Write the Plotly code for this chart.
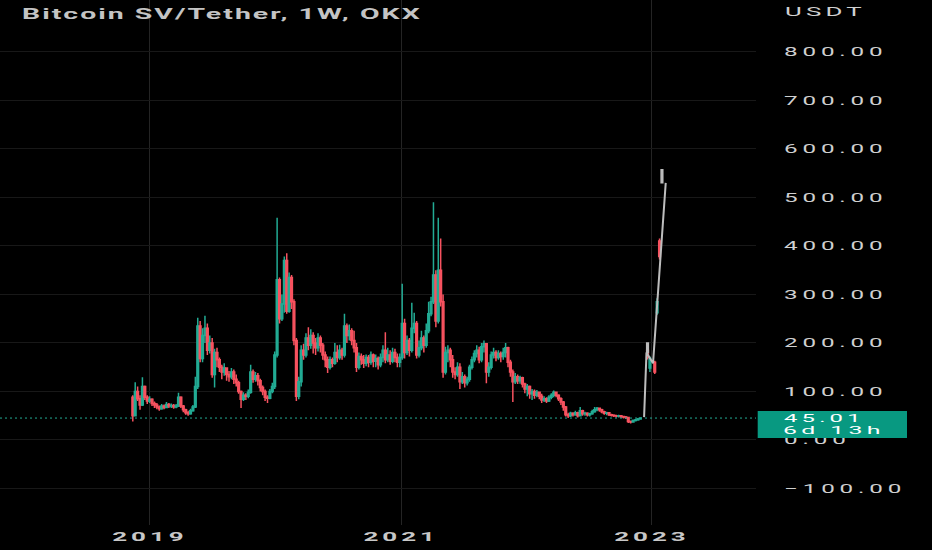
import plotly.graph_objects as go
import pandas as pd

# ---------------- data ----------------
start_week = "2018-11-12"

open_ = [88, 50, 100, 85, 72, 110, 88, 80, 84, 75,
         72, 68, 64, 70, 67, 73, 70, 71, 68, 70,
         88, 70, 62, 56, 54, 60, 68, 110, 235, 168,
         215, 230, 185, 200, 135, 180, 165, 150, 140, 148,
         135, 130, 140, 125, 118, 100, 84, 92, 90, 98,
         140, 125, 132, 122, 108, 100, 88, 86, 100, 110,
         175, 330, 250, 280, 370, 265, 335, 285, 205, 90,
         120, 185, 175, 210, 195, 215, 200, 190, 210, 195,
         175, 165, 150, 165, 158, 180, 170, 185, 175, 235,
         215, 225, 205, 190, 150, 172, 165, 158, 170, 160,
         175, 162, 168, 155, 170, 185, 165, 175, 162, 180,
         170, 160, 170, 240, 180, 205, 185, 230, 240, 175,
         190, 210, 195, 225, 260, 285, 340, 245, 350, 285,
         140, 180, 185, 165, 140, 135, 150, 120, 130, 118,
         125, 150, 165, 178, 185, 165, 192, 198, 140, 150,
         175, 180, 170, 178, 172, 180, 190, 160, 140, 120,
         130, 122, 128, 115, 105, 110, 95, 100, 92, 98,
         90, 82, 85, 80, 88, 92, 98, 92, 85, 78,
         68, 52, 50, 55, 52, 56, 50, 60, 54, 55,
         52, 54, 58, 62, 65, 62, 58, 55, 56, 52,
         51, 50, 49, 50, 48, 47, 46, 38, 37, 40,
         41, 43]

high = [92, 119, 110, 92, 129, 112, 92, 90, 86, 79,
        76, 71, 74, 73, 78, 76, 75, 74, 74, 97,
        90, 72, 64, 60, 64, 72, 130, 252, 245, 230,
        256, 240, 215, 210, 188, 190, 170, 155, 158, 150,
        142, 148, 145, 135, 122, 102, 98, 96, 104, 155,
        145, 140, 138, 126, 112, 104, 92, 105, 118, 182,
        458, 335, 300, 378, 385, 345, 340, 290, 210, 130,
        195, 198, 220, 232, 228, 222, 210, 220, 215, 200,
        182, 172, 172, 170, 200, 195, 196, 190, 260, 240,
        238, 230, 225, 200, 180, 178, 175, 176, 175, 182,
        178, 176, 172, 178, 195, 222, 190, 185, 190, 188,
        178, 178, 322, 250, 215, 210, 283, 262, 245, 205,
        225, 215, 240, 285, 295, 490, 350, 458, 415, 300,
        192, 195, 190, 175, 150, 160, 158, 140, 135, 130,
        155, 172, 185, 195, 192, 200, 205, 200, 160, 182,
        190, 185, 185, 182, 190, 200, 192, 165, 145, 138,
        135, 132, 130, 118, 115, 112, 105, 104, 103, 100,
        95, 90, 88, 92, 96, 102, 100, 94, 88, 80,
        70, 56, 58, 57, 60, 58, 68, 62, 58, 57,
        56, 62, 68, 68, 67, 64, 60, 58, 57, 54,
        53, 52, 52, 51, 50, 49, 47, 40, 42, 43,
        45, 46]

low = [38, 48, 80, 62, 70, 82, 74, 76, 70, 66,
       63, 60, 62, 63, 65, 66, 66, 64, 65, 68,
       66, 57, 52, 50, 52, 58, 66, 105, 160, 160,
       200, 175, 178, 128, 108, 150, 140, 125, 132, 122,
       120, 125, 115, 110, 95, 66, 80, 82, 86, 95,
       118, 120, 112, 100, 92, 80, 76, 84, 96, 105,
       170, 240, 245, 262, 260, 262, 270, 195, 80, 84,
       110, 165, 170, 185, 188, 178, 175, 182, 180, 165,
       150, 138, 145, 150, 155, 160, 165, 165, 170, 200,
       205, 195, 180, 140, 145, 155, 148, 152, 150, 155,
       150, 150, 145, 150, 160, 158, 160, 155, 158, 160,
       150, 150, 165, 168, 175, 172, 180, 220, 168, 170,
       185, 180, 190, 220, 255, 280, 232, 240, 275, 128,
       135, 160, 150, 128, 125, 130, 105, 115, 108, 112,
       120, 145, 160, 170, 158, 160, 180, 117, 130, 145,
       168, 162, 165, 160, 165, 170, 150, 130, 78, 115,
       115, 116, 108, 96, 90, 85, 82, 85, 88, 84,
       76, 78, 76, 78, 84, 88, 88, 80, 72, 60,
       48, 45, 47, 48, 50, 46, 48, 50, 50, 48,
       48, 52, 56, 59, 58, 55, 52, 51, 49, 48,
       47, 46, 46, 45, 44, 43, 35, 34, 36, 38,
       40, 42]

close = [50, 100, 85, 72, 110, 88, 80, 84, 75, 72,
         68, 64, 70, 67, 73, 70, 71, 68, 70, 88,
         70, 62, 56, 54, 60, 68, 110, 235, 168, 215,
         230, 185, 200, 135, 180, 165, 150, 140, 148, 135,
         130, 140, 125, 118, 100, 84, 92, 90, 98, 140,
         125, 132, 122, 108, 100, 88, 86, 100, 110, 175,
         330, 250, 280, 370, 265, 335, 285, 205, 90, 120,
         185, 175, 210, 195, 215, 200, 190, 210, 195, 175,
         165, 150, 165, 158, 180, 170, 185, 175, 235, 215,
         225, 205, 190, 150, 172, 165, 158, 170, 160, 175,
         162, 168, 155, 170, 185, 165, 175, 162, 180, 170,
         160, 170, 240, 180, 205, 185, 230, 240, 175, 190,
         210, 195, 225, 260, 285, 340, 245, 350, 285, 140,
         180, 185, 165, 140, 135, 150, 120, 130, 118, 125,
         150, 165, 178, 185, 165, 192, 198, 140, 150, 175,
         180, 170, 178, 172, 180, 190, 160, 140, 120, 130,
         122, 128, 115, 105, 110, 95, 100, 92, 98, 90,
         82, 85, 80, 88, 92, 98, 92, 85, 78, 68,
         52, 50, 55, 52, 56, 50, 60, 54, 55, 52,
         54, 58, 62, 65, 62, 58, 55, 56, 52, 51,
         50, 49, 50, 48, 47, 46, 38, 37, 40, 41,
         43, 45.01]

weeks = pd.date_range(start_week, periods=len(close), freq="7D").strftime("%Y-%m-%d").tolist()

# projected ("bars pattern") drawing
proj_dates = ["2022-12-19", "2022-12-26", "2023-01-09", "2023-01-16", "2023-01-23"]
proj_open = [185, 148, 160, 262, 410]
proj_high = [198, 172, 163, 292, 415]
proj_low = [166, 140, 136, 258, 372]
proj_close = [170, 168, 140, 285, 378]

ghost_dates = ["2022-12-19", "2023-01-30"]
ghost_open = [180, 530]
ghost_high = [200, 557]
ghost_low = [178, 530]
ghost_close = [200, 557]

path_dates = ["2022-12-09", "2022-12-16", "2023-01-04", "2023-02-10"]
path_values = [47, 180, 158, 530]

year_ticks = ["2019-01-01", "2021-01-01", "2023-01-01"]
year_labels = ["2019", "2021", "2023"]
price_ticks = [-100, 0, 100, 200, 300, 400, 500, 600, 700, 800]

title_text = "Bitcoin SV/Tether, 1W, OKX"
currency = "USDT"
countdown = "6d 13h"

# ---------------- style ----------------
UP = "#22AB94"
DOWN = "#F7525F"
GRAY = "#BDBDBD"
LABEL_BG = "#089981"
TXT = "#D0D0D0"

fig = go.Figure()

fig.add_trace(go.Candlestick(
    x=weeks, open=open_, high=high, low=low, close=close,
    increasing=dict(line=dict(color=UP, width=1.5), fillcolor=UP),
    decreasing=dict(line=dict(color=DOWN, width=1.5), fillcolor=DOWN),
    whiskerwidth=0, hoverinfo="skip", name="BSVUSDT"))

fig.add_trace(go.Candlestick(
    x=proj_dates, open=proj_open, high=proj_high, low=proj_low, close=proj_close,
    increasing=dict(line=dict(color=UP, width=1.5), fillcolor=UP),
    decreasing=dict(line=dict(color=DOWN, width=1.5), fillcolor=DOWN),
    whiskerwidth=0, hoverinfo="skip", name="proj"))

fig.add_trace(go.Candlestick(
    x=ghost_dates, open=ghost_open, high=ghost_high, low=ghost_low, close=ghost_close,
    increasing=dict(line=dict(color=GRAY, width=1.5), fillcolor=GRAY),
    decreasing=dict(line=dict(color=GRAY, width=1.5), fillcolor=GRAY),
    whiskerwidth=0, hoverinfo="skip", name="ghost"))

fig.add_trace(go.Scatter(
    x=path_dates, y=path_values, mode="lines",
    line=dict(color=GRAY, width=2), hoverinfo="skip", name="path"))

last = close[-1]

fig.update_layout(
    width=932, height=550,
    margin=dict(l=0, r=176, t=0, b=25),
    paper_bgcolor="#000000", plot_bgcolor="#000000",
    showlegend=False, hovermode=False,
    boxgap=0.0,
    title=dict(text=title_text, x=22 / 932, xanchor="left", y=1 - 14.5 / 550, yanchor="middle",
               font=dict(family="Roboto", size=14, color="#C4C4C4", weight="bold")),
    xaxis=dict(
        type="date", range=["2017-10-21 12:00", "2023-10-30 17:00"],
        tickvals=year_ticks, ticktext=year_labels,
        showgrid=True, gridcolor="#242424", gridwidth=1,
        zeroline=False, showline=False, ticks="",
        rangeslider=dict(visible=False),
        tickfont=dict(family="Roboto", size=13, color="#C8C8C8", weight="bold"),
        ticklabelstandoff=2,
    ),
    yaxis=dict(
        side="right", range=[-175.5, 907],
        tickvals=price_ticks, tickformat=".2f",
        showgrid=True, gridcolor="#181818", gridwidth=1,
        zeroline=False, showline=False, ticks="",
        tickfont=dict(family="Roboto", size=12.5, color=TXT),
        ticklabelstandoff=27,
    ),
    shapes=[
        dict(type="line", xref="paper", x0=0, x1=1, yref="y", y0=last, y1=last,
             line=dict(color=UP, width=1, dash="2px,3px"), layer="above"),
        dict(type="rect", xref="paper", x0=757.7 / 756, x1=907 / 756,
             yref="y", ysizemode="pixel", yanchor=last, y0=-20, y1=7,
             fillcolor=LABEL_BG, line=dict(width=0), layer="above"),
    ],
    annotations=[
        dict(text=currency, xref="paper", x=786.8 / 756, xanchor="left",
             yref="paper", y=1 - 11.7 / 525, yanchor="middle", showarrow=False,
             font=dict(family="Roboto", size=12.5, color=TXT)),
        dict(text=f"{last:.2f}", xref="paper", x=786.8 / 756, xanchor="left",
             yref="y", y=last, yanchor="middle", showarrow=False,
             font=dict(family="Roboto", size=11.5, color="#FFFFFF")),
        dict(text=countdown, xref="paper", x=786.8 / 756, xanchor="left",
             yref="y", y=last, yanchor="middle", yshift=-12, showarrow=False,
             font=dict(family="Roboto", size=11.5, color="#FFFFFF")),
    ],
)

JS = r"""
(function(){
  document.documentElement.style.margin='0';
  document.body.style.margin='0';
  document.body.style.background='#000';
  var gd = document.getElementById('{plot_id}');
  function anchorX(bb, a){ return a==='start' ? bb.x : (a==='end' ? bb.x+bb.width : bb.x+bb.width/2); }
  function stretch(el, s, a){
    var t = el.getAttribute('transform') || '';
    if (t.indexOf('scale(') >= 0) return;
    var bb = el.getBBox();
    var ax = anchorX(bb, a);
    el.setAttribute('transform', (t + ' translate(' + ax + ',0) scale(' + s + ',1) translate(' + (-ax) + ',0)').trim());
  }
  function group(nodes, ls, refText, target, a){
    var s = null;
    nodes.forEach(function(el){ el.style.letterSpacing = ls + 'px'; });
    nodes.forEach(function(el){
      if (el.textContent === refText) { var w = el.getBBox().width; if (w > 0) s = target / w; }
    });
    if (s === null) return;
    nodes.forEach(function(el){ stretch(el, s, a); });
  }
  function apply(){
    var yt = Array.prototype.slice.call(gd.querySelectorAll('.ytick text'));
    group(yt, 2.5, '800.00', 103.6, 'start');
    var xt = Array.prototype.slice.call(gd.querySelectorAll('.xtick text'));
    group(xt, 2, '2019', 75.6, 'middle');
    var tt = Array.prototype.slice.call(gd.querySelectorAll('.gtitle'));
    if (tt.length) group(tt, 1, tt[0].textContent, 400, 'start');
    var an = Array.prototype.slice.call(gd.querySelectorAll('.annotation-text'));
    var targets = {'USDT': 80.7, '45.01': 80.7, '6d 13h': 101.8};
    an.forEach(function(el){
      var tg = targets[el.textContent];
      if (tg) group([el], 2, el.textContent, tg, 'start');
    });
  }
  apply();
  if (gd.on) gd.on('plotly_afterplot', apply);
})();
"""

fig.write_html("out.html", post_script=JS, config={"displayModeBar": False})
